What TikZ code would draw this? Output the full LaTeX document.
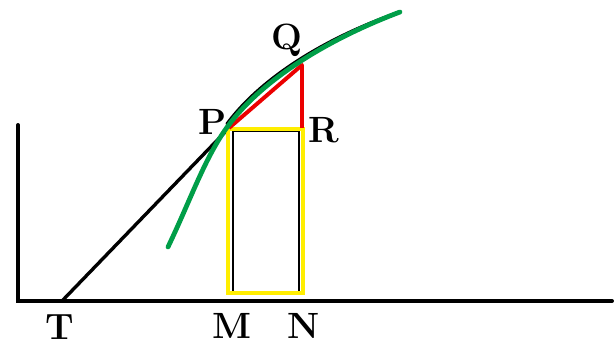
\documentclass[tikz,border=0pt]{standalone}
\usepackage{xcolor}
\usetikzlibrary{positioning}
\definecolor{curvegreen}{RGB}{0,158,72}
\definecolor{chordred}{RGB}{235,0,0}
\definecolor{rectyellow}{RGB}{255,238,0}
\tikzset{
  axis/.style={
    line width=2.8pt,
    draw=black,
    line cap=round
  },
  ink/.style={
    line width=2.4pt,
    draw=black,
    line cap=round
  },
  curve/.style={
    line width=3.4pt,
    draw=curvegreen,
    line cap=round
  },
  triangle/.style={
    line width=2.8pt,
    draw=chordred,
    line join=round
  },
  strip/.style={
    line width=2.8pt,
    draw=rectyellow
  },
  letter/.style={
    font=\fontsize{26}{28}\selectfont\bfseries,
    text=black,
    inner sep=0pt
  }
}

\begin{document}
\begin{tikzpicture}[x=0.025cm,y=0.025cm]

\useasboundingbox (0,0) rectangle (614,352);

\coordinate (O) at (18,51);
\coordinate (top) at (18,227);
\coordinate (far) at (612,51);
\coordinate (T) at (62,51);
\coordinate (P) at (229,224);
\coordinate (Q) at (302,287);
\coordinate (R) at (302,224);
\coordinate (M) at (230,51);
\coordinate (N) at (303,51);
\coordinate (start) at (168,105);
\coordinate (end) at (400,340);

% axes and tangent
\draw[axis] (top) -- (O) -- (far);
\draw[ink] (T) -- (P);

% ordinates PM and RN
\draw[line width=1.2pt] (233,57) -- (233,221) -- (299,221) -- (299,57);

% printed curve
\draw[ink, shift={(-1,2)}] (228,226) .. controls (262,272) and (326,312) .. (end);

% yellow strip
\draw[strip] (228,59) rectangle (303,223);

% red triangle
\draw[triangle] (P) -- (Q) -- (R);

% green curve
\draw[curve] (start) .. controls (191,153) and (205,195) .. (228,226)
  .. controls (262,272) and (326,312) .. (end);

\node[letter] (labT) at (60,25) {T};
\node[letter] (labM) at (232,26) {M};
\node[letter] (labN) at (304,26) {N};
\node[letter] (labP) at (213,230) {P};
\node[letter] (labQ) at (287,312) {Q};
\node[letter] (labR) at (324,222) {R};

\end{tikzpicture}
\end{document}
